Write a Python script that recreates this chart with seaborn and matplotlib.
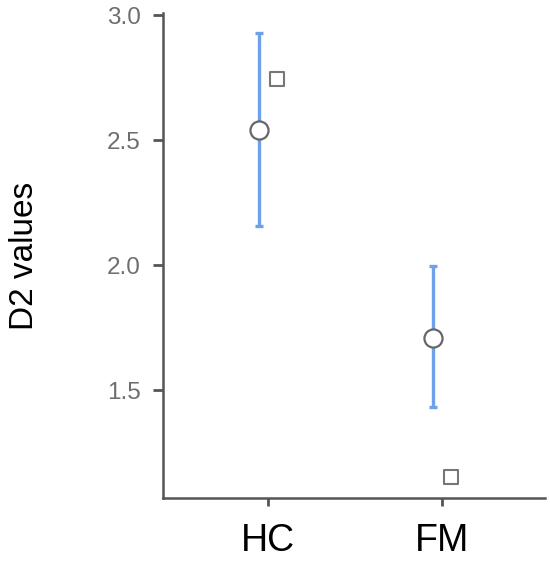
import numpy as np
import pandas as pd
import matplotlib as mpl
mpl.use('Agg')
import matplotlib.pyplot as plt
import seaborn as sns

# values
groups = ['HC', 'FM']
means = [2.542, 1.708]
ci_low = [2.156, 1.432]
ci_high = [2.928, 1.996]
squares = [2.744, 1.152]

sns.set_style('ticks')
plt.rcParams['font.family'] = ['Liberation Sans', 'DejaVu Sans']

pos = np.arange(len(groups))
df = pd.DataFrame({'pos': pos, 'group': groups, 'mean': means, 'sq': squares})
# circles sit a little left of the tick, squares a little right
df['pos_mean'] = df['pos'] - 0.05
df['pos_sq'] = df['pos'] + 0.05

fig = plt.figure(figsize=(5.5, 5.66), dpi=100)
ax = fig.add_axes([0.2964, 0.12, 0.6946, 0.857])

# error bars (interval around the mean)
yerr = [np.array(means) - np.array(ci_low), np.array(ci_high) - np.array(means)]
ax.errorbar(df['pos_mean'], means, yerr=yerr, fmt='none', ecolor='#6fa0ea',
            elinewidth=2.4, capsize=3, capthick=2.4, zorder=2)

sns.scatterplot(data=df, x='pos_mean', y='mean', ax=ax, marker='o', s=170,
                facecolor='white', edgecolor='#666666', linewidth=1.6, zorder=3)
sns.scatterplot(data=df, x='pos_sq', y='sq', ax=ax, marker='s', s=110,
                facecolor='white', edgecolor='#777777', linewidth=1.5, zorder=3)

ax.set_xlim(-0.603, 1.592)
ax.set_ylim(1.068, 3.008)
ax.set_xticks(pos)
ax.set_xticklabels(groups, fontsize=27, color='black')
ax.set_yticks([1.5, 2.0, 2.5, 3.0])
ax.set_yticklabels(['1.5', '2.0', '2.5', '3.0'], fontsize=17.5, color='#6e6e6e')
ax.tick_params(axis='x', length=6, width=2, color='#555555', pad=12)
ax.tick_params(axis='y', length=7, width=2, color='#555555', pad=9)
ax.set_xlabel('')
ax.set_ylabel('D2 values', fontsize=24, color='black')
ax.yaxis.set_label_coords(-0.322, 0.5)

sns.despine(ax=ax)
for side in ['left', 'bottom']:
    ax.spines[side].set_color('#555555')
    ax.spines[side].set_linewidth(1.8)

fig.savefig('out.png', dpi=100)
